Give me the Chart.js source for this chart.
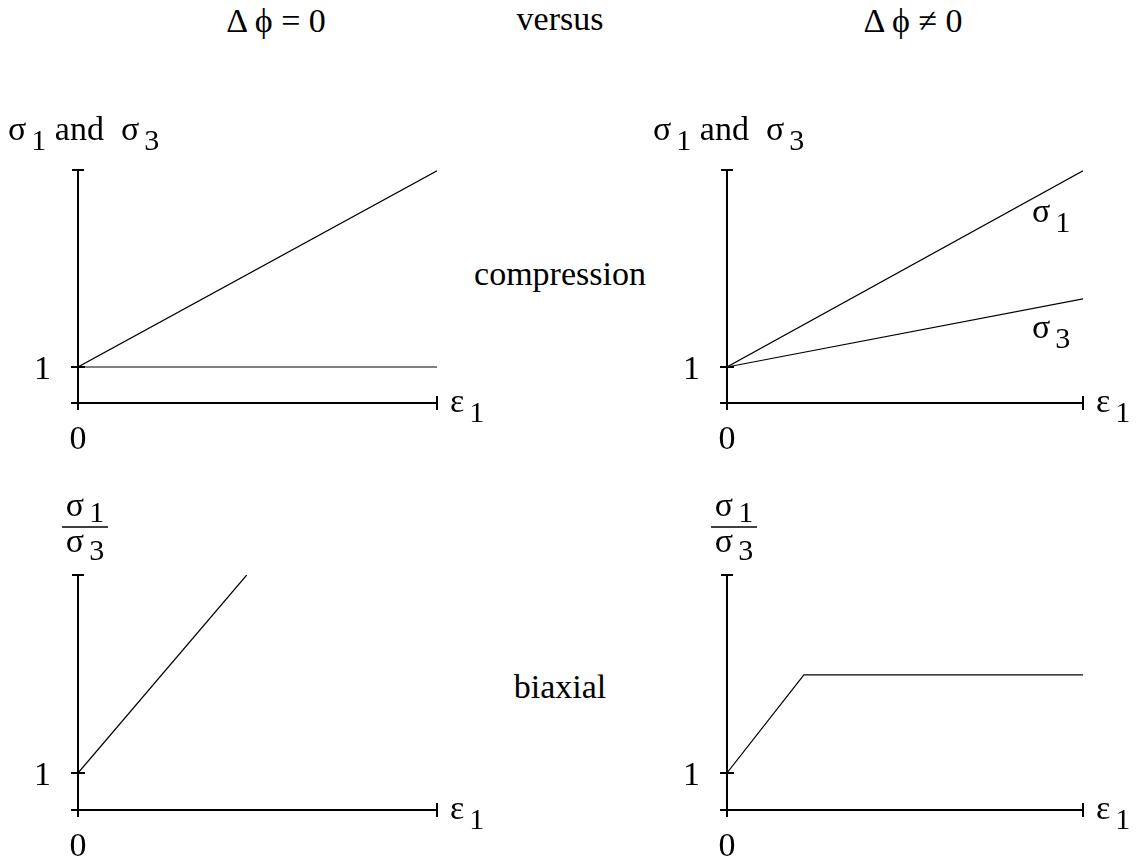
<!DOCTYPE html>
<html>
<head>
<meta charset="utf-8">
<script src="https://cdn.jsdelivr.net/npm/chart.js@4/dist/chart.umd.min.js"></script>
<style>
  html, body { margin: 0; padding: 0; background: #fff; }
  #page { position: relative; width: 1136px; height: 860px; overflow: hidden;
          font-family: 'Liberation Serif', 'Times New Roman', serif; color: #000; }
  .panel { position: absolute; }
  .lbl { position: absolute; font-size: 34px; line-height: 34px; white-space: nowrap;
         transform: translateX(-50%); }
</style>
</head>
<body>
<div id="page">
  <div class="lbl" style="left:276px; top:4px;">Δ&#8201;ϕ = 0</div>
  <div class="lbl" style="left:560px; top:2px;">versus</div>
  <div class="lbl" style="left:913px; top:4px;">Δ&#8201;ϕ ≠ 0</div>
  <div class="lbl" style="left:560px; top:257px;">compression</div>
  <div class="lbl" style="left:560px; top:670px;">biaxial</div>

  <div class="panel" style="left:0px; top:0px;"><canvas id="tl" width="568" height="450"></canvas></div>
  <div class="panel" style="left:568px; top:0px;"><canvas id="tr" width="568" height="450"></canvas></div>
  <div class="panel" style="left:0px; top:450px;"><canvas id="bl" width="568" height="410"></canvas></div>
  <div class="panel" style="left:568px; top:450px;"><canvas id="br" width="568" height="410"></canvas></div>
</div>

<script>
// ---- data: axial strain ε1 (normalised) against stress / stress ratio ----
// compression, Δϕ = 0
const epsCompFlat = [0, 1];
const sigma1CompFlat = [1, 6.45];
const sigma3CompFlat = [1, 1];
// compression, Δϕ ≠ 0
const epsCompDil = [0, 1];
const sigma1CompDil = [1, 6.45];
const sigma3CompDil = [1, 2.89];
// biaxial, Δϕ = 0
const epsBiaxFlat = [0, 0.47];
const ratioBiaxFlat = [1, 6.35];
// biaxial, Δϕ ≠ 0
const epsBiaxDil = [0, 0.216, 1];
const ratioBiaxDil = [1, 3.65, 3.65];
// axis ranges and tick labels
const xRange = [0, 1];
const yMaxComp = 6.47;
const yMaxBiax = 6.35;
const yTickValue = 1, yTickLabel = '1';
const xTickValue = 0, xTickLabel = '0';

const FONT = "'Liberation Serif', 'Times New Roman', serif";
const MAIN = 34, SUB = 30, SUB_DROP = 10;

// draw a run of text parts, some of them subscripts; returns end x
function drawParts(ctx, x, y, parts, measureOnly, drop) {
  const d = drop === undefined ? SUB_DROP : drop;
  let cx = x;
  for (const p of parts) {
    const size = p.sub ? SUB : MAIN;
    ctx.font = size + 'px ' + FONT;
    if (p.sub) cx += 5;
    if (!measureOnly) ctx.fillText(p.t, cx, y + (p.sub ? d : 0));
    cx += ctx.measureText(p.t).width;
  }
  return cx;
}
function partsWidth(ctx, parts) { return drawParts(ctx, 0, 0, parts, true); }

const sigma1 = [{t: 'σ'}, {t: '1', sub: true}];
const sigma3 = [{t: 'σ'}, {t: '3', sub: true}];
const eps1 = [{t: 'ε'}, {t: '1', sub: true}];

// axes, ticks and labels drawn from the chart's own scales
const framePlugin = {
  id: 'frame',
  beforeDatasetsDraw(chart, args, opts) {
    const ctx = chart.ctx, xs = chart.scales.x, ys = chart.scales.y;
    const x0 = xs.getPixelForValue(xTickValue), y0 = ys.getPixelForValue(0);
    const xEnd = xs.getPixelForValue(xs.max), yTop = ys.getPixelForValue(ys.max);
    const y1 = ys.getPixelForValue(yTickValue);
    ctx.save();
    ctx.strokeStyle = '#000';
    ctx.lineWidth = 2;
    ctx.beginPath();
    ctx.moveTo(x0, y0 + 7); ctx.lineTo(x0, yTop);          // y axis
    ctx.moveTo(x0 - 7, y0); ctx.lineTo(xEnd, y0);          // x axis
    ctx.moveTo(x0 - 6, yTop); ctx.lineTo(x0 + 6, yTop);    // top tick
    ctx.moveTo(x0 - 7, y1); ctx.lineTo(x0 + 7, y1);        // tick at 1
    ctx.moveTo(xEnd, y0 - 7); ctx.lineTo(xEnd, y0 + 7);    // end tick
    ctx.stroke();
    ctx.restore();
  },
  afterDraw(chart, args, opts) {
    const ctx = chart.ctx, xs = chart.scales.x, ys = chart.scales.y;
    const x0 = xs.getPixelForValue(xTickValue), y0 = ys.getPixelForValue(0);
    const xEnd = xs.getPixelForValue(xs.max), yTop = ys.getPixelForValue(ys.max);
    const y1 = ys.getPixelForValue(yTickValue);
    ctx.save();
    ctx.fillStyle = '#000';
    ctx.textBaseline = 'alphabetic';
    ctx.font = MAIN + 'px ' + FONT;
    ctx.textAlign = 'right';
    ctx.fillText(yTickLabel, x0 - 27, y1 + 12);
    ctx.textAlign = 'center';
    ctx.fillText(xTickLabel, x0, y0 + 46);
    ctx.textAlign = 'left';
    drawParts(ctx, xEnd + 13, y0 + 9, eps1);

    if (opts.title === 'pair') {
      drawParts(ctx, x0 - opts.titleOffset, yTop - 30,
        [{t: 'σ'}, {t: '1', sub: true}, {t: ' and  σ'}, {t: '3', sub: true}]);
    } else if (opts.title === 'ratio') {
      const cx = x0 + 7;
      const w1 = partsWidth(ctx, sigma1), w3 = partsWidth(ctx, sigma3);
      drawParts(ctx, cx - w1 / 2, yTop - 59, sigma1, false, 6);
      drawParts(ctx, cx - w3 / 2, yTop - 23, sigma3, false, 8);
      ctx.lineWidth = 1.6;
      ctx.beginPath();
      ctx.moveTo(x0 - 16, yTop - 48); ctx.lineTo(x0 + 30, yTop - 48);
      ctx.stroke();
    }
    if (opts.curveLabels) {
      const lx = xEnd - 51;
      drawParts(ctx, lx, ys.getPixelForValue(sigma1CompDil[1]) + 51, sigma1);
      drawParts(ctx, lx, ys.getPixelForValue(sigma3CompDil[1]) + 39, sigma3);
    }
    ctx.restore();
  }
};

function toPoints(xs, ys) { return xs.map((x, i) => ({x: x, y: ys[i]})); }

function makePanel(id, series, yMax, padding, frameOpts) {
  new Chart(document.getElementById(id), {
    type: 'line',
    data: {
      datasets: series.map(s => ({
        data: toPoints(s[0], s[1]),
        borderColor: '#000',
        borderWidth: 1.2,
        pointRadius: 0,
        tension: 0,
        fill: false
      }))
    },
    options: {
      responsive: false,
      animation: false,
      events: [],
      layout: {padding: padding},
      scales: {
        x: {type: 'linear', min: xRange[0], max: xRange[1], display: false},
        y: {type: 'linear', min: 0, max: yMax, display: false}
      },
      plugins: {
        legend: {display: false},
        tooltip: {enabled: false},
        frame: frameOpts
      }
    },
    plugins: [framePlugin]
  });
}

makePanel('tl', [[epsCompFlat, sigma1CompFlat], [epsCompFlat, sigma3CompFlat]],
  yMaxComp, {left: 78, right: 131, top: 170, bottom: 47},
  {title: 'pair', titleOffset: 70});
makePanel('tr', [[epsCompDil, sigma1CompDil], [epsCompDil, sigma3CompDil]],
  yMaxComp, {left: 159, right: 53, top: 170, bottom: 47},
  {title: 'pair', titleOffset: 74, curveLabels: true});
makePanel('bl', [[epsBiaxFlat, ratioBiaxFlat]],
  yMaxBiax, {left: 78, right: 131, top: 125, bottom: 50},
  {title: 'ratio'});
makePanel('br', [[epsBiaxDil, ratioBiaxDil]],
  yMaxBiax, {left: 159, right: 53, top: 125, bottom: 50},
  {title: 'ratio'});
</script>
</body>
</html>
